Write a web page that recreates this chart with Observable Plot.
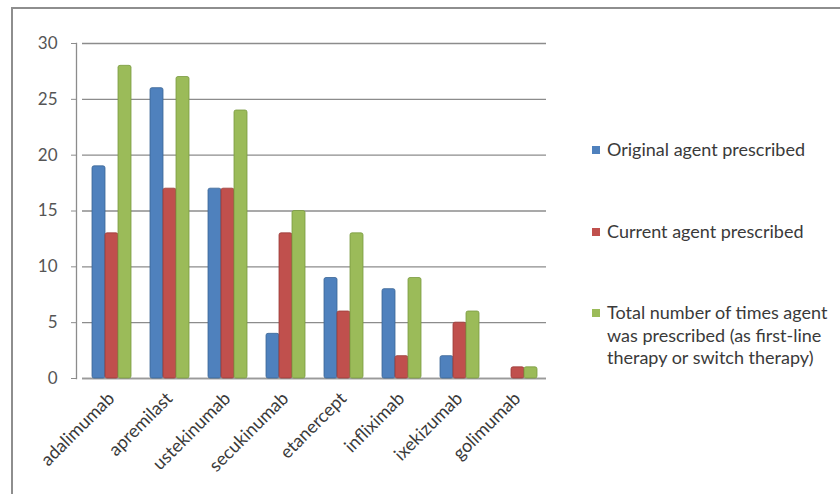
<!DOCTYPE html>
<html>
<head>
<meta charset="utf-8">
<script src="https://cdn.jsdelivr.net/npm/d3@7"></script>
<script src="https://cdn.jsdelivr.net/npm/@observablehq/plot@0.6"></script>
<style>
  html, body { margin: 0; padding: 0; background: #fff; }
  #wrap { position: relative; width: 840px; height: 494px; overflow: hidden; font-family: Lato, "Open Sans", sans-serif; }
  #border { position: absolute; left: 11px; top: 7px; width: 840px; height: 494px; border-top: 2px solid #8e8e8e; border-left: 2px solid #8e8e8e; }
  #chart { position: absolute; left: 0; top: 0; }
  #legend { position: absolute; left: 592px; top: 0; color: #3a3a3a; font-size: 18px; }
  .item { position: absolute; left: 0; white-space: nowrap; line-height: 22.5px; }
  .sw { display: inline-block; width: 8px; height: 8px; margin-right: 7px; vertical-align: 2px; }
  .txt { display: inline-block; vertical-align: top; }
</style>
</head>
<body>
<div id="wrap">
  <div id="border"></div>
  <div id="chart"></div>
  <div id="legend"></div>
</div>
<script>
const drugs = ["adalimumab", "apremilast", "ustekinumab", "secukinumab", "etanercept", "infliximab", "ixekizumab", "golimumab"];
const seriesNames = ["Original agent prescribed", "Current agent prescribed", "Total number of times agent was prescribed (as first-line therapy or switch therapy)"];
const originalValues = [19, 26, 17, 4, 9, 8, 2, 0];
const currentValues = [13, 17, 17, 13, 6, 2, 5, 1];
const totalValues = [28, 27, 24, 15, 13, 9, 6, 1];
const yTicks = [0, 5, 10, 15, 20, 25, 30];
const colors = ["#4f81bd", "#c0504d", "#9bbb59"];
const strokes = ["#3b6696", "#9a3b38", "#7a9a40"];

const seriesValues = [originalValues, currentValues, totalValues];
const data = drugs.flatMap((drug, i) =>
  seriesNames.map((s, k) => ({drug, series: s, value: seriesValues[k][i]}))
);

const plot = Plot.plot({
  width: 840,
  height: 494,
  marginLeft: 79,
  marginRight: 291,
  marginTop: 43,
  marginBottom: 116,
  style: {fontFamily: "Lato, 'Open Sans', sans-serif", background: "transparent"},
  fx: {domain: drugs, padding: 0, label: null, axis: null},
  x: {domain: seriesNames, paddingInner: 0, paddingOuter: 0.706, axis: null},
  y: {domain: [0, 30], label: null},
  color: {domain: seriesNames, range: colors},
  marks: [
    Plot.gridY(yTicks, {stroke: "#8c8c8c", strokeOpacity: 1, strokeWidth: 1.3}),
    Plot.ruleY([0], {stroke: "#9a9a9a", strokeWidth: 1.3}),
    Plot.barY(data, {
      fx: "drug", x: "series", y: "value", fill: "series",
      stroke: d => strokes[seriesNames.indexOf(d.series)], strokeWidth: 0.8, rx: 2
    }),
    Plot.frame({anchor: "left", dx: -6, stroke: "#8c8c8c", strokeWidth: 1.3, facetAnchor: "left"}),
    Plot.axisY(yTicks, {dx: -6, tickSize: 5, tickPadding: 14, fontSize: 17, color: "#555", stroke: "#8c8c8c", label: null}),
    Plot.axisFx({anchor: "bottom", tickRotate: -45, tickSize: 0, tickPadding: 17, fontSize: 18, color: "#3a3a3a", label: null, textAnchor: "end"})
  ]
});
document.getElementById("chart").appendChild(plot);

const legendTops = [138, 220, 301];
const legendLabels = ["Original agent prescribed", "Current agent prescribed", "Total number of times agent<br>was prescribed (as first-line<br>therapy or switch therapy)"];
const legend = document.getElementById("legend");
seriesNames.forEach((s, k) => {
  const item = document.createElement("div");
  item.className = "item";
  item.style.top = legendTops[k] + "px";
  item.innerHTML = `<span class="sw" style="background:${colors[k]}"></span><span class="txt">${legendLabels[k]}</span>`;
  legend.appendChild(item);
});
</script>
</body>
</html>
